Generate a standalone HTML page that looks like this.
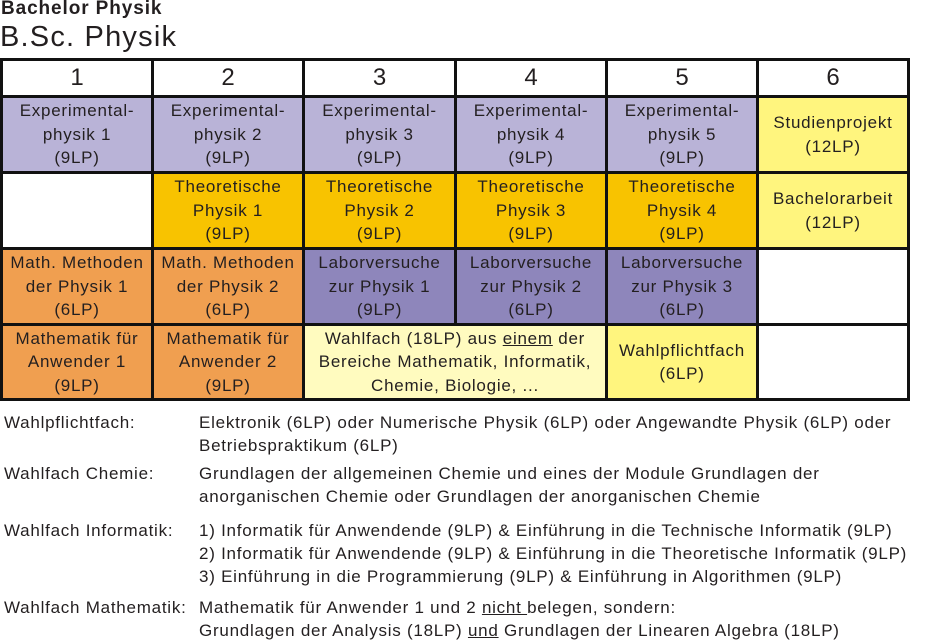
<!DOCTYPE html>
<html><head><meta charset="utf-8"><style>
body{margin:0;width:933px;height:641px;background:#fff;font-family:"Liberation Sans",sans-serif;color:#231f20;position:relative;overflow:hidden}
.c{position:absolute;box-sizing:border-box;border:3px solid #111;display:flex;align-items:center;justify-content:center;text-align:center;font-size:17px;line-height:23.5px;letter-spacing:0.75px}
.h{font-size:24px;letter-spacing:0}
.t{position:absolute;font-size:17px;line-height:23px;white-space:nowrap;letter-spacing:0.75px}
.L{background:#b9b3d7}.O{background:#f8c300}.M{background:#f09f50}.P{background:#8e86bb}.Y{background:#fff57e}.W{background:#fffbbf}
</style></head><body>
<div class="t" style="left:1px;top:-3px;font-weight:bold;font-size:19px;letter-spacing:0.9px">Bachelor Physik</div>
<div class="t" style="left:0;top:20px;font-size:29px;line-height:34px;letter-spacing:1.2px">B.Sc. Physik</div>

<div class="c h" style="left:0;top:58px;width:154px;height:40px">1</div>
<div class="c h" style="left:151px;top:58px;width:154px;height:40px">2</div>
<div class="c h" style="left:302px;top:58px;width:155px;height:40px">3</div>
<div class="c h" style="left:454px;top:58px;width:154px;height:40px">4</div>
<div class="c h" style="left:605px;top:58px;width:154px;height:40px">5</div>
<div class="c h" style="left:756px;top:58px;width:154px;height:40px">6</div>

<div class="c L" style="left:0;top:95px;width:154px;height:79px"><div>Experimental-<br>physik 1<br>(9LP)</div></div>
<div class="c L" style="left:151px;top:95px;width:154px;height:79px"><div>Experimental-<br>physik 2<br>(9LP)</div></div>
<div class="c L" style="left:302px;top:95px;width:155px;height:79px"><div>Experimental-<br>physik 3<br>(9LP)</div></div>
<div class="c L" style="left:454px;top:95px;width:154px;height:79px"><div>Experimental-<br>physik 4<br>(9LP)</div></div>
<div class="c L" style="left:605px;top:95px;width:154px;height:79px"><div>Experimental-<br>physik 5<br>(9LP)</div></div>
<div class="c Y" style="left:756px;top:95px;width:154px;height:79px"><div>Studienprojekt<br>(12LP)</div></div>

<div class="c" style="left:0;top:171px;width:154px;height:79px"></div>
<div class="c O" style="left:151px;top:171px;width:154px;height:79px"><div>Theoretische<br>Physik 1<br>(9LP)</div></div>
<div class="c O" style="left:302px;top:171px;width:155px;height:79px"><div>Theoretische<br>Physik 2<br>(9LP)</div></div>
<div class="c O" style="left:454px;top:171px;width:154px;height:79px"><div>Theoretische<br>Physik 3<br>(9LP)</div></div>
<div class="c O" style="left:605px;top:171px;width:154px;height:79px"><div>Theoretische<br>Physik 4<br>(9LP)</div></div>
<div class="c Y" style="left:756px;top:171px;width:154px;height:79px"><div>Bachelorarbeit<br>(12LP)</div></div>

<div class="c M" style="left:0;top:247px;width:154px;height:79px"><div>Math. Methoden<br>der Physik 1<br>(6LP)</div></div>
<div class="c M" style="left:151px;top:247px;width:154px;height:79px"><div>Math. Methoden<br>der Physik 2<br>(6LP)</div></div>
<div class="c P" style="left:302px;top:247px;width:155px;height:79px"><div>Laborversuche<br>zur Physik 1<br>(9LP)</div></div>
<div class="c P" style="left:454px;top:247px;width:154px;height:79px"><div>Laborversuche<br>zur Physik 2<br>(6LP)</div></div>
<div class="c P" style="left:605px;top:247px;width:154px;height:79px"><div>Laborversuche<br>zur Physik 3<br>(6LP)</div></div>
<div class="c" style="left:756px;top:247px;width:154px;height:79px"></div>

<div class="c M" style="left:0;top:323px;width:154px;height:78px"><div>Mathematik für<br>Anwender 1<br>(9LP)</div></div>
<div class="c M" style="left:151px;top:323px;width:154px;height:78px"><div>Mathematik für<br>Anwender 2<br>(9LP)</div></div>
<div class="c W" style="left:302px;top:323px;width:306px;height:78px;white-space:nowrap"><div>Wahlfach (18LP) aus <u>einem</u> der<br>Bereiche Mathematik, Informatik,<br>Chemie, Biologie, ...</div></div>
<div class="c Y" style="left:605px;top:323px;width:154px;height:78px"><div>Wahlpflichtfach<br>(6LP)</div></div>
<div class="c" style="left:756px;top:323px;width:154px;height:78px"></div>

<div class="t" style="left:4px;top:411px">Wahlpflichtfach:</div>
<div class="t" style="left:199px;top:411px">Elektronik (6LP) oder Numerische Physik (6LP) oder Angewandte Physik (6LP) oder<br>Betriebspraktikum (6LP)</div>
<div class="t" style="left:4px;top:462px">Wahlfach Chemie:</div>
<div class="t" style="left:199px;top:462px">Grundlagen der allgemeinen Chemie und eines der Module Grundlagen der<br>anorganischen Chemie oder Grundlagen der anorganischen Chemie</div>
<div class="t" style="left:4px;top:519px">Wahlfach Informatik:</div>
<div class="t" style="left:199px;top:519px">1) Informatik für Anwendende (9LP) &amp; Einführung in die Technische Informatik (9LP)<br>2) Informatik für Anwendende (9LP) &amp; Einführung in die Theoretische Informatik (9LP)<br>3) Einführung in die Programmierung (9LP) &amp; Einführung in Algorithmen (9LP)</div>
<div class="t" style="left:4px;top:596px">Wahlfach Mathematik:</div>
<div class="t" style="left:199px;top:596px">Mathematik für Anwender 1 und 2 <u>nicht </u>belegen, sondern:<br>Grundlagen der Analysis (18LP) <u>und</u> Grundlagen der Linearen Algebra (18LP)</div>
</body></html>
